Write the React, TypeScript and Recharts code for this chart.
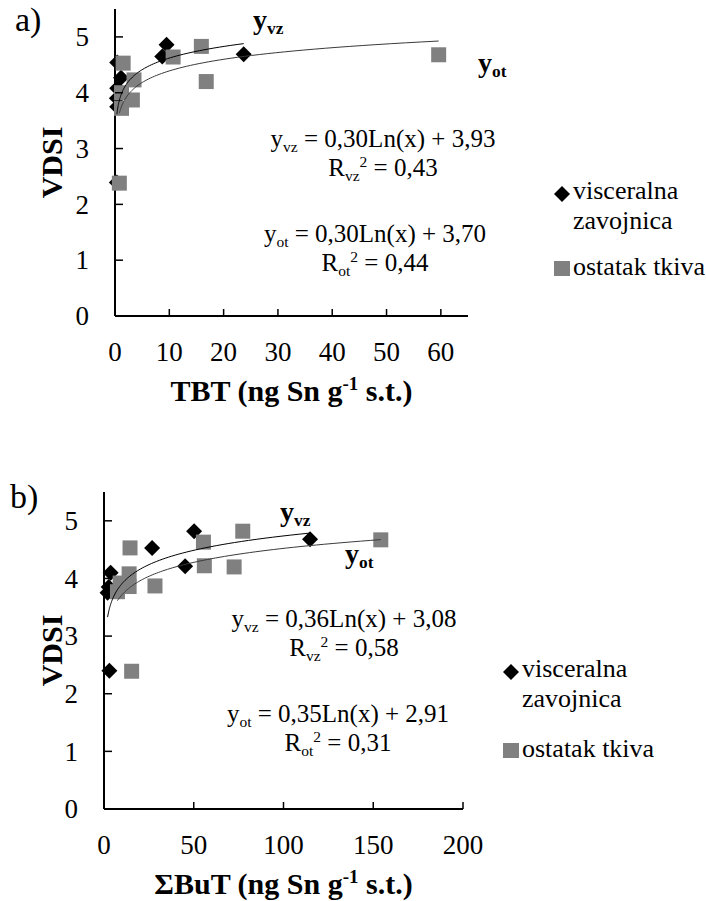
import React from 'react';
import { ScatterChart, Scatter, XAxis, YAxis, Legend } from 'recharts';

const FONT = '"Liberation Serif", "Times New Roman", serif';

const SERIES_VZ = 'visceralna zavojnica';
const SERIES_OT = 'ostatak tkiva';

// a) TBT
const tbtVzX = [0.4, 1.1, 0.4, 0.35, 0.4, 0.35, 9.5, 8.7, 23.7];
const tbtVzY = [4.54, 4.27, 4.08, 3.9, 3.75, 2.39, 4.86, 4.65, 4.69];
const tbtOtX = [1.5, 3.5, 1.2, 3.2, 1.2, 0.8, 10.7, 15.9, 16.8, 59.6];
const tbtOtY = [4.53, 4.23, 4.0, 3.87, 3.72, 2.38, 4.64, 4.83, 4.2, 4.68];
const tbtVzFit = [0.3, 3.93];
const tbtOtFit = [0.3, 3.7];
const tbtTicks = [0, 10, 20, 30, 40, 50, 60];

// b) sum of butyltins
const butVzX = [2.0, 3.7, 2.6, 3.0, 26.8, 45.2, 50.2, 114.8];
const butVzY = [3.75, 4.1, 3.85, 2.4, 4.53, 4.21, 4.82, 4.68];
const butOtX = [7.5, 9, 14, 14, 14.5, 15.4, 28.4, 55.4, 55.9, 72.5, 77.3, 154.2];
const butOtY = [3.77, 3.92, 4.08, 3.86, 4.53, 2.39, 3.87, 4.63, 4.22, 4.2, 4.82, 4.67];
const butVzFit = [0.36, 3.08];
const butOtFit = [0.35, 2.91];
const butTicks = [0, 50, 100, 150, 200];

const vdsiTicks = [0, 1, 2, 3, 4, 5];

const toPoints = (xs: number[], ys: number[]) => xs.map((x, i) => ({ x, y: ys[i] }));

// logarithmic trendline y = a*ln(x) + b over the range of the series
const trend = (xs: number[], fit: number[]) => {
  const lo = Math.min(...xs);
  const hi = Math.max(...xs);
  const n = 80;
  return Array.from({ length: n + 1 }, (_, i) => {
    const x = lo * Math.pow(hi / lo, i / n);
    return { x, y: fit[0] * Math.log(x) + fit[1] };
  });
};

const Diamond = (p: any) => {
  const { cx, cy } = p;
  const r = 8;
  return <polygon points={`${cx},${cy - r} ${cx + r},${cy} ${cx},${cy + r} ${cx - r},${cy}`} fill="#000" />;
};
const Square = (p: any) => <rect x={p.cx - 7.5} y={p.cy - 7.5} width={15} height={15} fill="#808080" />;
const NoDot = () => <g />;

const Sub = ({ children }: any) => (
  <span style={{ fontSize: '0.62em', verticalAlign: '-0.3em', lineHeight: 0 }}>{children}</span>
);
const Sup = ({ children }: any) => (
  <span style={{ fontSize: '0.62em', verticalAlign: '0.55em', lineHeight: 0 }}>{children}</span>
);

const abs = (left: number, top: number, extra: React.CSSProperties = {}): React.CSSProperties => ({
  position: 'absolute',
  left,
  top,
  whiteSpace: 'nowrap',
  color: '#000',
  ...extra,
});

const Equation = ({ cx, top, tag, eq, r2 }: any) => (
  <div style={abs(cx - 160, top, { width: 320, textAlign: 'center', fontSize: 25, lineHeight: '29px' })}>
    y<Sub>{tag}</Sub> = {eq}
    <br />
    R<Sub>{tag}</Sub>
    <Sup>2</Sup> = {r2}
  </div>
);

const makeLegend = (gap: number) => () => (
  <div style={{ fontFamily: FONT, fontSize: 26, lineHeight: '30px', color: '#000', textAlign: 'left' }}>
    <div style={{ display: 'flex', alignItems: 'flex-start' }}>
      <svg width={16} height={16} style={{ marginTop: 10, marginRight: 3, flex: 'none' }}>
        <polygon points="8,0 16,8 8,16 0,8" fill="#000" />
      </svg>
      <div style={{ width: 150 }}>{SERIES_VZ}</div>
    </div>
    <div style={{ display: 'flex', alignItems: 'flex-start', marginTop: gap }}>
      <svg width={16} height={16} style={{ marginTop: 9, marginRight: 3, flex: 'none' }}>
        <rect width={16} height={15} fill="#808080" />
      </svg>
      <div style={{ whiteSpace: 'nowrap' }}>{SERIES_OT}</div>
    </div>
  </div>
);

interface PanelProps {
  top: number;
  height: number;
  marginTop: number;
  marginRight: number;
  yAxisWidth: number;
  xAxisHeight: number;
  xMax: number;
  xTicks: number[];
  xTitle: string;
  vz: { x: number; y: number }[];
  ot: { x: number; y: number }[];
  vzTrend: { x: number; y: number }[];
  otTrend: { x: number; y: number }[];
  legendPos: { left: number; top: number; gap: number };
  children?: React.ReactNode;
}

const Panel = (props: PanelProps) => {
  const W = 706;
  const axisY = props.height - props.xAxisHeight;
  const axisX = props.yAxisWidth;
  const plotRight = W - props.marginRight;
  const plotTop = props.marginTop;

  const xTick = (p: any) => (
    <g>
      <line x1={p.x} x2={p.x} y1={axisY} y2={axisY - 7} stroke="#000" strokeWidth={1.5} />
      <text x={p.x} y={axisY + 36} dy="0.34em" textAnchor="middle" fontFamily={FONT} fontSize={27} fill="#000">
        {p.payload.value}
      </text>
    </g>
  );
  const yTick = (p: any) => (
    <g>
      {p.payload.value !== 0 && (
        <line x1={axisX} x2={axisX + 8} y1={p.y} y2={p.y} stroke="#000" strokeWidth={1.5} />
      )}
      <text x={axisX - 26} y={p.y} dy="0.34em" textAnchor="end" fontFamily={FONT} fontSize={27} fill="#000">
        {p.payload.value}
      </text>
    </g>
  );
  const xLabel = () => {
    const cx = (axisX + plotRight) / 2;
    const parts = props.xTitle.split('|');
    return (
      <text x={cx} y={axisY + 85} textAnchor="middle" fontFamily={FONT} fontSize={30} fontWeight="bold" fill="#000">
        {parts[0]}
        <tspan dy={-11} fontSize={19}>
          -1
        </tspan>
        <tspan dy={11}>{parts[1]}</tspan>
      </text>
    );
  };
  const yLabel = () => {
    const cx = 52;
    const cy = (plotTop + axisY) / 2;
    return (
      <text
        x={cx}
        y={cy}
        dy="0.33em"
        transform={`rotate(-90, ${cx}, ${cy})`}
        textAnchor="middle"
        fontFamily={FONT}
        fontSize={30}
        fontWeight="bold"
        fill="#000"
      >
        VDSI
      </text>
    );
  };

  return (
    <div style={{ position: 'absolute', left: 0, top: props.top, width: W, height: props.height, fontFamily: FONT }}>
      <ScatterChart
        width={W}
        height={props.height}
        margin={{ top: props.marginTop, right: props.marginRight, left: 0, bottom: 0 }}
      >
        <XAxis
          type="number"
          dataKey="x"
          domain={[0, props.xMax]}
          ticks={props.xTicks}
          interval={0}
          height={props.xAxisHeight}
          axisLine={{ stroke: '#000', strokeWidth: 2 }}
          tickLine={false}
          tick={xTick}
          label={xLabel}
        />
        <YAxis
          type="number"
          dataKey="y"
          domain={[0, 5.5]}
          ticks={vdsiTicks}
          interval={0}
          width={props.yAxisWidth}
          axisLine={{ stroke: '#000', strokeWidth: 2 }}
          tickLine={false}
          tick={yTick}
          label={yLabel}
        />
        <Legend
          layout="vertical"
          align="center"
          verticalAlign="middle"
          content={makeLegend(props.legendPos.gap)}
          wrapperStyle={{ left: props.legendPos.left, top: props.legendPos.top, width: 170 }}
        />
        <Scatter name={SERIES_VZ} data={props.vz} shape={Diamond} isAnimationActive={false} />
        <Scatter name={SERIES_OT} data={props.ot} shape={Square} isAnimationActive={false} />
        <Scatter
          data={props.vzTrend}
          shape={NoDot}
          line={{ stroke: '#000', strokeWidth: 1 }}
          lineType="joint"
          legendType="none"
          isAnimationActive={false}
        />
        <Scatter
          data={props.otTrend}
          shape={NoDot}
          line={{ stroke: '#3a3a3a', strokeWidth: 1 }}
          lineType="joint"
          legendType="none"
          isAnimationActive={false}
        />
      </ScatterChart>
      {props.children}
    </div>
  );
};

export default function App() {
  return (
    <div style={{ position: 'absolute', left: 0, top: 0, width: 706, height: 901, background: '#fff' }}>
      <Panel
        top={0}
        height={420}
        marginTop={9}
        marginRight={238}
        yAxisWidth={115}
        xAxisHeight={104}
        xMax={65}
        xTicks={tbtTicks}
        xTitle="TBT (ng Sn g| s.t.)"
        vz={toPoints(tbtVzX, tbtVzY)}
        ot={toPoints(tbtOtX, tbtOtY)}
        vzTrend={trend(tbtVzX, tbtVzFit)}
        otTrend={trend(tbtOtX, tbtOtFit)}
        legendPos={{ left: 554, top: 176, gap: 16 }}
      >
        <div style={abs(15, 3, { fontSize: 34, lineHeight: '34px' })}>a)</div>
        <div style={abs(253, 6, { fontSize: 28, lineHeight: '28px', fontWeight: 'bold' })}>
          y<Sub>vz</Sub>
        </div>
        <div style={abs(478, 49, { fontSize: 28, lineHeight: '28px', fontWeight: 'bold' })}>
          y<Sub>ot</Sub>
        </div>
        <Equation cx={383} top={124} tag="vz" eq="0,30Ln(x) + 3,93" r2="0,43" />
        <Equation cx={375} top={219} tag="ot" eq="0,30Ln(x) + 3,70" r2="0,44" />
      </Panel>
      <Panel
        top={450}
        height={451}
        marginTop={42}
        marginRight={243}
        yAxisWidth={104}
        xAxisHeight={92}
        xMax={200}
        xTicks={butTicks}
        xTitle="ΣBuT (ng Sn g| s.t.)"
        vz={toPoints(butVzX, butVzY)}
        ot={toPoints(butOtX, butOtY)}
        vzTrend={trend(butVzX, butVzFit)}
        otTrend={trend(butOtX, butOtFit)}
        legendPos={{ left: 503, top: 204, gap: 20 }}
      >
        <div style={abs(10, 30, { fontSize: 34, lineHeight: '34px' })}>b)</div>
        <div style={abs(280, 48, { fontSize: 28, lineHeight: '28px', fontWeight: 'bold' })}>
          y<Sub>vz</Sub>
        </div>
        <div style={abs(345, 90, { fontSize: 28, lineHeight: '28px', fontWeight: 'bold' })}>
          y<Sub>ot</Sub>
        </div>
        <Equation cx={344} top={154} tag="vz" eq="0,36Ln(x) + 3,08" r2="0,58" />
        <Equation cx={338} top={249} tag="ot" eq="0,35Ln(x) + 2,91" r2="0,31" />
      </Panel>
    </div>
  );
}
